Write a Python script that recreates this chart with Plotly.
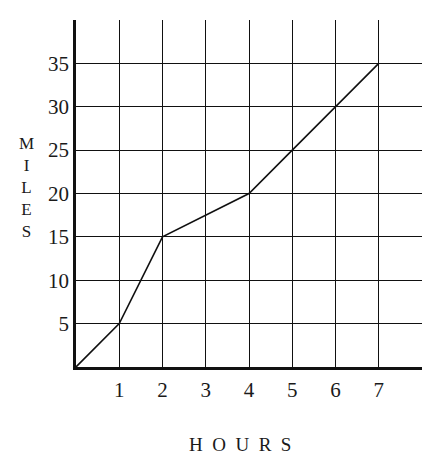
import plotly.graph_objects as go

hours = [0, 1, 2, 4, 5, 6, 7]
miles = [0, 5, 15, 20, 25, 30, 35]
x_ticks = [1, 2, 3, 4, 5, 6, 7]
y_ticks = [5, 10, 15, 20, 25, 30, 35]

font_family = "Liberation Serif"
txt_color = "#1a1a1a"

fig = go.Figure()
fig.add_trace(go.Scatter(x=hours, y=miles, mode="lines",
                         line=dict(color="#111111", width=1.6),
                         hoverinfo="skip", showlegend=False))

fig.update_layout(
    width=423, height=455,
    margin=dict(l=68, r=9, t=12, b=96),
    paper_bgcolor="white", plot_bgcolor="white",
    font=dict(family=font_family, size=21, color=txt_color),
    xaxis=dict(range=[0, 8], tickvals=x_ticks, ticktext=[str(v) for v in x_ticks],
               showgrid=True, gridcolor="#111111", gridwidth=1.2,
               showline=True, linecolor="#111111", linewidth=2.5,
               zeroline=False, ticks="", ticklabelstandoff=2, fixedrange=True),
    yaxis=dict(range=[0, 40], tickvals=y_ticks, ticktext=[str(v) for v in y_ticks],
               showgrid=True, gridcolor="#111111", gridwidth=1.2,
               showline=True, linecolor="#111111", linewidth=2.5,
               zeroline=False, ticks="", ticklabelstandoff=0, fixedrange=True),
    annotations=[
        dict(text="M<br>I<br>L<br>E<br>S", xref="paper", yref="paper",
             x=-0.142, y=0.516, showarrow=False, xanchor="center", yanchor="middle",
             font=dict(family=font_family, size=17, color=txt_color)),
        dict(text="H\u00a0\u00a0O\u00a0\u00a0U\u00a0\u00a0R\u00a0\u00a0S", xref="paper", yref="paper",
             x=0.474, y=-0.222, showarrow=False, xanchor="center", yanchor="middle",
             font=dict(family=font_family, size=19, color=txt_color)),
    ],
)

fig.write_html("out.html")
